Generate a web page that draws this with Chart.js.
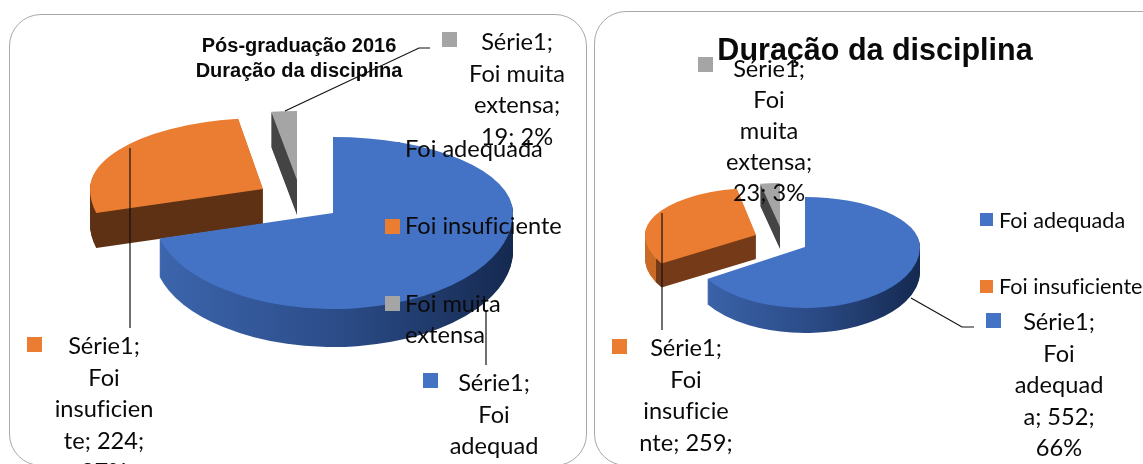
<!DOCTYPE html>
<html>
<head>
<meta charset="utf-8">
<script src="https://cdn.jsdelivr.net/npm/chart.js@4"></script>
<style>
  html, body { margin: 0; padding: 0; background: #fff; }
  #page { position: relative; width: 1143px; height: 464px; overflow: hidden; font-family: Lato, sans-serif; color: #0a0a0a; font-variant-ligatures: none; }
  canvas { position: absolute; left: 0; top: 0; }
  .panel { position: absolute; border: 1.5px solid #a8a8a8; border-radius: 32px; box-sizing: border-box; }
  .txt { position: absolute; white-space: nowrap; }
  .ttl { font-family: "Liberation Sans", Arial, sans-serif; font-weight: bold; color: #0a0a0a; text-align: center; transform: translateX(-50%); }
  .lbl { text-align: center; transform: translateX(-50%); }
  .mark { position: absolute; }
</style>
</head>
<body>
<div id="page">
  <div class="panel" style="left:9px;top:14px;width:578px;height:452px"></div>
  <div class="panel" style="left:594px;top:11px;width:600px;height:455px"></div>
  <canvas id="chartPos"></canvas>
  <canvas id="chartDur"></canvas>
</div>
<script>
// Values (first blue value is cut off, derived from 71%)
const categories = ['Foi adequada', 'Foi insuficiente', 'Foi muita extensa'];
const posValues = [587, 224, 19];
const durValues = [552, 259, 23];
const sliceColors = ['#4472c4', '#ea7d31', '#a5a5a5'];

const posLabelLines = [
  ['Série1;', 'Foi', 'adequad'],
  ['Série1;', 'Foi', 'insuficien', 'te; 224;', '27%'],
  ['Série1;', 'Foi muita', 'extensa;', '19; 2%']
];
const durLabelLines = [
  ['Série1;', 'Foi', 'adequad', 'a; 552;', '66%'],
  ['Série1;', 'Foi', 'insuficie', 'nte; 259;', '31%'],
  ['Série1;', 'Foi', 'muita', 'extensa;', '23; 3%']
];

// how each slice of the fake 3D pie sits on the page
const posLayout = {
  cx: 333, cy: 213,
  slices: [
    { sx: 0, sy: 0, rx: 180, back: 76, front: 96, depth: 38, side: [[0, '#3d66ae'], [0.55, '#2a4a85'], [1, '#152950']] },
    { sx: -70, sy: -24, rx: 173, back: 71, front: 90, depth: 35, side: [[0, '#5f3114'], [1, '#5f3114']] },
    { sx: -36, sy: -33, rx: 180, back: 69, front: 80, depth: 35, side: [[0, '#444444'], [1, '#444444']] }
  ],
  leaders: [
    [[486, 310], [486, 365]],
    [[130, 148], [130, 328]],
    [[285, 111], [419, 48], [430, 48]]
  ]
};
const durLayout = {
  cx: 805, cy: 247,
  slices: [
    { sx: 0, sy: 0, rx: 115, back: 50, front: 61, depth: 25, side: [[0, '#3d66ae'], [0.55, '#2a4a85'], [1, '#152950']] },
    { sx: -49, sy: -12, rx: 111, back: 47, front: 54, depth: 24, side: [[0, '#c96a26'], [0.05, '#c96a26'], [0.05, '#753a17'], [1, '#753a17']] },
    { sx: -25, sy: -20, rx: 115, back: 44, front: 50, depth: 22, side: [[0, '#444444'], [1, '#444444']] }
  ],
  leaders: [
    [[911, 298], [962, 327], [974, 327]],
    [[662, 213], [662, 330]]
  ]
};

// draws one arc element squashed into the lower and upper half of an egg shape
function drawSquashed(ctx, chart, arc, layout, s, extra) {
  const R = arc.outerRadius;
  const px = layout.cx + s.sx;
  const py = layout.cy + s.sy + extra;
  [[s.back, 0, py], [s.front, py, chart.height - py]].forEach(([ry, top, h]) => {
    ctx.save();
    ctx.beginPath();
    ctx.rect(0, top, chart.width, h);
    ctx.clip();
    ctx.translate(px, py);
    ctx.scale(s.rx / R, ry / R);
    ctx.translate(-arc.x, -arc.y);
    arc.draw(ctx);
    ctx.restore();
  });
}

const pie3d = {
  id: 'pie3d',
  beforeDatasetsDraw(chart, args, opts) {
    const ctx = chart.ctx;
    const layout = opts.layout;
    const arcs = chart.getDatasetMeta(0).data;
    // back slices first so the big blue one sits in front
    [2, 1, 0].forEach(i => {
      const arc = arcs[i];
      const s = layout.slices[i];
      const own = arc.options;
      const grad = ctx.createLinearGradient(arc.x - arc.outerRadius, 0, arc.x + arc.outerRadius, 0);
      s.side.forEach(st => grad.addColorStop(st[0], st[1]));
      arc.options = Object.create(own, { backgroundColor: { value: grad } });
      for (let d = s.depth; d >= 1; d--) drawSquashed(ctx, chart, arc, layout, s, d);
      arc.options = own;
      drawSquashed(ctx, chart, arc, layout, s, 0);
    });
    return false;
  },
  afterDraw(chart, args, opts) {
    const ctx = chart.ctx;
    ctx.save();
    ctx.strokeStyle = '#111';
    ctx.lineWidth = 1.2;
    opts.layout.leaders.forEach(pts => {
      ctx.beginPath();
      pts.forEach((p, i) => i ? ctx.lineTo(p[0], p[1]) : ctx.moveTo(p[0], p[1]));
      ctx.stroke();
    });
    ctx.restore();
  }
};

function createPie(canvasId, values, layout) {
  const el = document.getElementById(canvasId);
  el.width = 1143;
  el.height = 464;
  return new Chart(el.getContext('2d'), {
    type: 'pie',
    data: {
      labels: categories,
      datasets: [{ data: values, backgroundColor: sliceColors, borderWidth: 0 }]
    },
    options: {
      responsive: false,
      animation: false,
      plugins: {
        legend: { display: false },
        tooltip: { enabled: false },
        pie3d: { layout: layout }
      }
    },
    plugins: [pie3d]
  });
}

createPie('chartPos', posValues, posLayout);
createPie('chartDur', durValues, durLayout);

// titles, legends and data labels as page text
const page = document.getElementById('page');

function addText(cls, html, style) {
  const d = document.createElement('div');
  d.className = 'txt ' + cls;
  d.innerHTML = html;
  Object.assign(d.style, style);
  page.appendChild(d);
}
function addMark(color, x, y, size) {
  const d = document.createElement('div');
  d.className = 'mark';
  Object.assign(d.style, { left: x + 'px', top: y + 'px', width: size + 'px', height: size + 'px', background: color });
  page.appendChild(d);
}
// centre x, y of the first line's middle, line pitch
function addLabel(lines, x, y, pitch, size) {
  lines.forEach((line, i) => {
    addText('lbl', line, { left: x + 'px', top: (y + i * pitch - 15) + 'px', lineHeight: '30px', fontSize: size + 'px' });
  });
}

addText('ttl', 'Pós-graduação 2016<br>Duração da disciplina', { left: '299px', top: '33px', fontSize: '20px', lineHeight: '25px' });
addText('ttl', 'Duração da disciplina', { left: '875px', top: '31px', fontSize: '30.5px', lineHeight: '36px' });

// left legend
addMark(sliceColors[0], 385, 142, 15);
addMark(sliceColors[1], 385, 219, 15);
addMark(sliceColors[2], 385, 296, 15);
addText('', categories[0], { left: '405px', top: '133px', fontSize: '23.6px', lineHeight: '30px' });
addText('', categories[1], { left: '405px', top: '210px', fontSize: '23.6px', lineHeight: '30px' });
addText('', 'Foi muita<br>extensa', { left: '405px', top: '288px', fontSize: '23.6px', lineHeight: '31px' });

// right legend
addMark(sliceColors[0], 980, 213, 13);
addMark(sliceColors[1], 980, 280, 13);
addText('', categories[0], { left: '999px', top: '205px', fontSize: '21.6px', lineHeight: '30px' });
addText('', categories[1], { left: '999px', top: '271px', fontSize: '21.6px', lineHeight: '30px' });

// data labels
addMark(sliceColors[0], 423, 373, 15);
addLabel(posLabelLines[0], 494, 382, 31.5, 23.6);
addMark(sliceColors[1], 27, 337, 15);
addLabel(posLabelLines[1], 104, 345, 31.5, 23.6);
addMark(sliceColors[2], 442, 32, 15);
addLabel(posLabelLines[2], 517, 41, 31.5, 23.6);

addMark(sliceColors[0], 986, 313, 15);
addLabel(durLabelLines[0], 1059, 321, 31.5, 23.6);
addMark(sliceColors[1], 612, 339, 15);
addLabel(durLabelLines[1], 686, 347, 31.5, 23.6);
addMark(sliceColors[2], 698, 57, 15);
addLabel(durLabelLines[2], 769, 68, 31, 23.6);
</script>
</body>
</html>
